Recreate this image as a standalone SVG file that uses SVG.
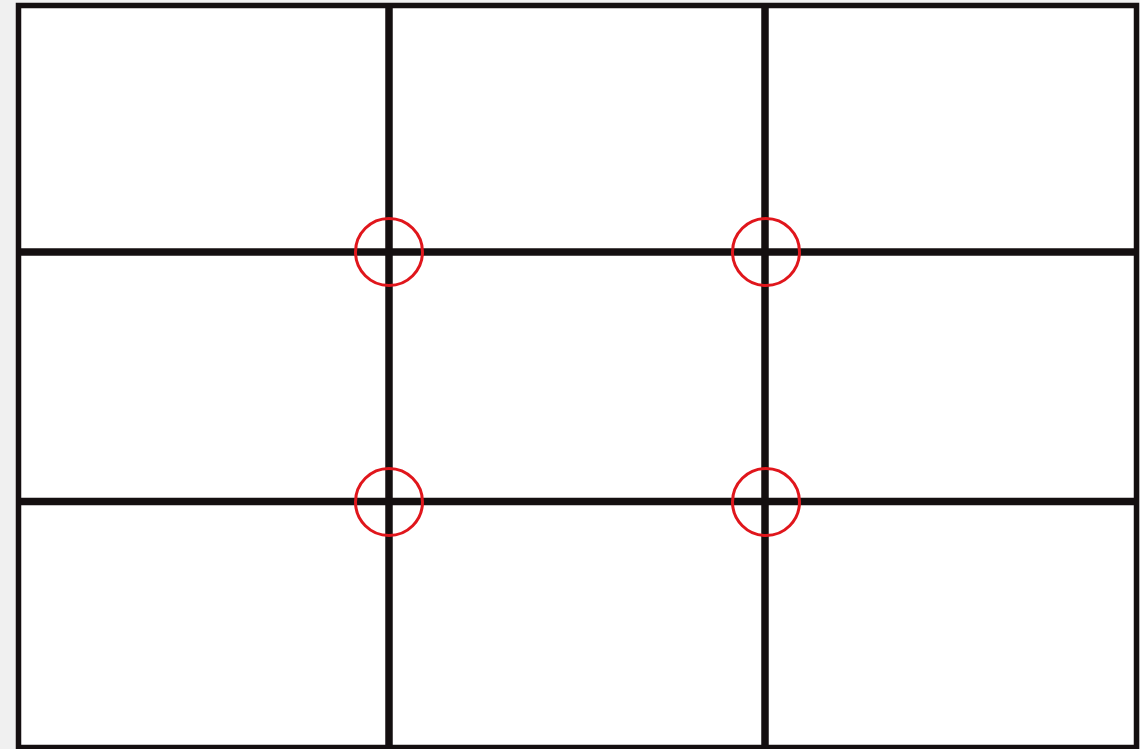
<svg xmlns="http://www.w3.org/2000/svg" width="1140" height="749" viewBox="0 0 1140 749">
<style>
.frame{fill:#ffffff;stroke:#140f10;stroke-width:5.5}
.grid line{stroke:#140f10;stroke-width:7.5}
.mark{fill:none;stroke:#e0161c;stroke-width:3}
</style>
<rect x="0" y="0" width="1140" height="749" fill="#f0f0f0"/>
<g id="frame"><rect class="frame" x="18.5" y="5.5" width="1118" height="742"/></g>
<g id="connectors" class="grid">
<line x1="389" y1="5" x2="389" y2="749"/>
<line x1="765" y1="5" x2="765" y2="749"/>
<line x1="18" y1="252" x2="1137" y2="252"/>
<line x1="18" y1="501.5" x2="1137" y2="501.5"/>
</g>
<g id="p1"><circle class="mark" cx="389" cy="252" r="33.5"/></g>
<g id="p2"><circle class="mark" cx="766" cy="252" r="33.5"/></g>
<g id="p3"><circle class="mark" cx="389" cy="502" r="33.5"/></g>
<g id="p4"><circle class="mark" cx="766" cy="502" r="33.5"/></g>
</svg>
